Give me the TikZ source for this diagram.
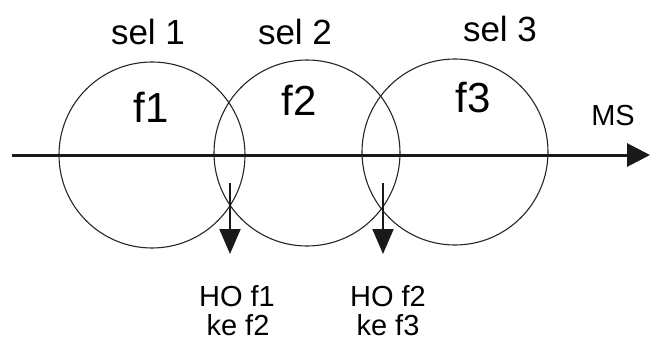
\documentclass[tikz,border=0pt]{standalone}
\usepackage{fontspec}
\setmainfont{Liberation Sans}
\usetikzlibrary{arrows.meta}
\begin{document}
\begin{tikzpicture}[x=1pt,y=-1pt,
  cell/.style={circle,draw=black!85,line width=1.1pt,minimum size=186pt,inner sep=0pt},
  sellabel/.style={anchor=base,inner sep=0pt,font=\fontsize{35}{38}\selectfont},
  flabel/.style={anchor=base,inner sep=0pt,font=\fontsize{42}{46}\selectfont},
  holabel/.style={anchor=base,inner sep=0pt,font=\fontsize{29}{30}\selectfont},
  mslabel/.style={anchor=base,inner sep=0pt,font=\fontsize{29}{32}\selectfont},
  axisline/.style={line width=3pt,draw=black!90,-{Triangle[length=23pt,width=23pt]}},
  hoarrow/.style={line width=2pt,draw=black!90,-{Triangle[length=25pt,width=21pt]}}
]
\useasboundingbox (0,0) rectangle (651,345);
\node[cell] (c1) at (152,155) {};
\node[cell] (c2) at (307,153) {};
\node[cell] (c3) at (455,152) {};
\coordinate (ms0) at (12,155);
\coordinate (ms1) at (650,155);
\draw[axisline] (ms0) -- (ms1);
\node[sellabel] (s1) at (148,45) {sel 1};
\node[sellabel] (s2) at (295,45) {sel 2};
\node[sellabel] (s3) at (500,42) {sel 3};
\node[flabel] (f1) at (151,122) {f1};
\node[flabel] (f2) at (299,115) {f2};
\node[flabel] (f3) at (473,112) {f3};
\node[mslabel] (ms) at (613,125) {MS};
\coordinate (h1a) at (230,183);
\coordinate (h1b) at (230,254);
\coordinate (h2a) at (383,183);
\coordinate (h2b) at (383,254);
\draw[hoarrow] (h1a) -- (h1b);
\draw[hoarrow] (h2a) -- (h2b);
\node[holabel] (ho1) at (237,306) {HO f1};
\node[holabel] (ke1) at (238,335) {ke f2};
\node[holabel] (ho2) at (388,306) {HO f2};
\node[holabel] (ke2) at (388,335) {ke f3};
\end{tikzpicture}
\end{document}
